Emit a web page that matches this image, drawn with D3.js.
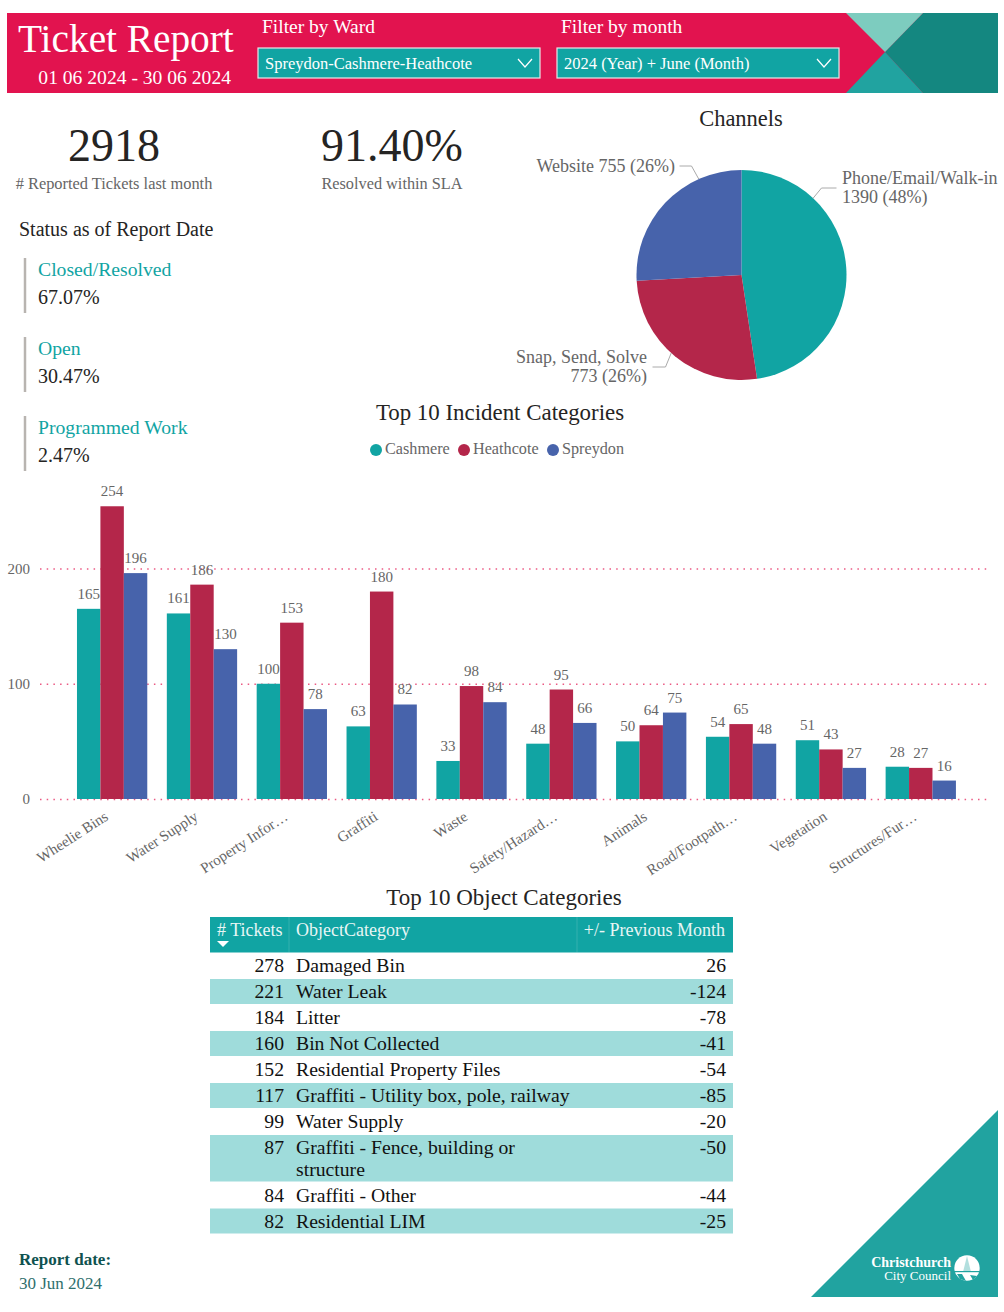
<!DOCTYPE html>
<html>
<head>
<meta charset="utf-8">
<title>Ticket Report</title>
<script src="https://cdn.jsdelivr.net/npm/d3@7"></script>
<style>
  html, body { margin: 0; padding: 0; background: #fff; }
  svg { display: block; }
  text { font-family: "Liberation Serif", serif; }
</style>
</head>
<body>
<div id="chart"></div>
<script>
// incident chart
const categories = ["Wheelie Bins", "Water Supply", "Property Infor…", "Graffiti", "Waste",
  "Safety/Hazard…", "Animals", "Road/Footpath…", "Vegetation", "Structures/Fur…"]
const wards = ["Cashmere", "Heathcote", "Spreydon"]
const cashmere = [165, 161, 100, 63, 33, 48, 50, 54, 51, 28]
const heathcote = [254, 186, 153, 180, 98, 95, 64, 65, 43, 27]
const spreydon = [196, 130, 78, 82, 84, 66, 75, 48, 27, 16]
const yTicks = [0, 100, 200]

// pie
const channels = ["Phone/Email/Walk-in", "Snap, Send, Solve", "Website"]
const channelCounts = [1390, 773, 755]
const channelPct = ["48%", "26%", "26%"]

// status list
const statusNames = ["Closed/Resolved", "Open", "Programmed Work"]
const statusValues = ["67.07%", "30.47%", "2.47%"]

// table
const tableHeaders = ["# Tickets", "ObjectCategory", "+/- Previous Month"]
const tickets = [278, 221, 184, 160, 152, 117, 99, 87, 84, 82]
const objectCategories = [["Damaged Bin"], ["Water Leak"], ["Litter"], ["Bin Not Collected"],
  ["Residential Property Files"], ["Graffiti - Utility box, pole, railway"], ["Water Supply"],
  ["Graffiti - Fence, building or", "structure"], ["Graffiti - Other"], ["Residential LIM"]]
const prevMonth = [26, -124, -78, -41, -54, -85, -20, -50, -44, -25]

const teal = "#11a4a3", crimson = "#b4264a", blue = "#4763ab", pink = "#e2134f"
const grey = "#666", dark = "#252423"

const svg = d3.select("#chart").append("svg").attr("width", 1004).attr("height", 1312)

function label(g, x, y, str, size, fill, anchor) {
  return g.append("text").attr("x", x).attr("y", y).attr("font-size", size)
    .attr("fill", fill).attr("text-anchor", anchor || "start").text(str)
}

// ---- header banner
const head = svg.append("g")
const poly = pts => "M" + pts.join("L") + "Z"
head.append("rect").attr("x", 7).attr("y", 13).attr("width", 991).attr("height", 80).attr("fill", pink)
head.append("path").attr("d", poly([[923, 13], [998, 13], [998, 93], [923, 93], [885, 52]])).attr("fill", "#148780")
head.append("path").attr("d", poly([[846, 13], [923, 13], [885, 52]])).attr("fill", "#7dccbf")
head.append("path").attr("d", poly([[846, 93], [923, 93], [885, 52]])).attr("fill", "#21a3a0")
label(head, 18, 52, "Ticket Report", 39.3, "#fff")
label(head, 231, 84, "01 06 2024 - 30 06 2024", 19.6, "#fff", "end")

const filters = [
  { x: 258, title: "Filter by Ward", value: "Spreydon-Cashmere-Heathcote" },
  { x: 557, title: "Filter by month", value: "2024 (Year) + June (Month)" }
]
filters.forEach(f => {
  label(head, f.x + 4, 33, f.title, 19.5, "#fff")
  head.append("rect").attr("x", f.x).attr("y", 48).attr("width", 282).attr("height", 30)
    .attr("fill", teal).attr("stroke", "#e8e8e8").attr("stroke-width", 1.2)
  label(head, f.x + 7, 69, f.value, 16.5, "#fff")
  head.append("path").attr("d", `M${f.x + 260},59L${f.x + 267},67L${f.x + 274},59`)
    .attr("fill", "none").attr("stroke", "#fff").attr("stroke-width", 1.2)
})

// ---- KPIs
label(svg, 114, 161, "2918", 46, dark, "middle")
label(svg, 114, 189, "# Reported Tickets last month", 16.4, grey, "middle")
label(svg, 392, 161, "91.40%", 46, dark, "middle")
label(svg, 392, 189, "Resolved within SLA", 16.3, grey, "middle")

// ---- status list
label(svg, 19, 236, "Status as of Report Date", 20, dark)
statusNames.forEach((name, i) => {
  const top = 258 + i * 79
  svg.append("line").attr("x1", 25).attr("x2", 25).attr("y1", top).attr("y2", top + 55)
    .attr("stroke", "#b8b4b0").attr("stroke-width", 2.5)
  label(svg, 38, top + 18, name, 19.7, teal)
  label(svg, 38, top + 46, statusValues[i], 20, dark)
})

// ---- channels pie
const pieX = 741.5, pieY = 275, pieR = 105
label(svg, 741, 126, "Channels", 22.5, dark, "middle")
const pieG = svg.append("g").attr("transform", `translate(${pieX},${pieY})`)
const pieData = d3.pie().sort(null)(channelCounts)
const pieColor = d3.scaleOrdinal().domain(channels).range([teal, crimson, blue])
pieG.selectAll("path").data(pieData).join("path")
  .attr("d", d3.arc().innerRadius(0).outerRadius(pieR))
  .attr("fill", (d, i) => pieColor(channels[i]))

// leader lines, angle (degrees clockwise from 12) where each one leaves the pie
const leaders = [
  { a: 43, elbow: [80, -87], end: [95, -87] },
  { a: 222, elbow: [-76, 92], end: [-89, 92] },
  { a: 336, elbow: [-50, -109], end: [-62, -109] }
]
leaders.forEach(l => {
  const start = d3.pointRadial(l.a * Math.PI / 180, pieR)
  pieG.append("path").attr("d", d3.line()([start, l.elbow, l.end]))
    .attr("fill", "none").attr("stroke", "#aaa")
})
label(svg, 842, 184, channels[0], 18, grey)
label(svg, 842, 203, `${channelCounts[0]} (${channelPct[0]})`, 18, grey)
label(svg, 647, 363, channels[1], 18, grey, "end")
label(svg, 647, 382, `${channelCounts[1]} (${channelPct[1]})`, 18, grey, "end")
label(svg, 675, 172, `${channels[2]} ${channelCounts[2]} (${channelPct[2]})`, 18, grey, "end")

// ---- incident bars
label(svg, 500, 420, "Top 10 Incident Categories", 22.9, dark, "middle")

const wardColor = d3.scaleOrdinal().domain(wards).range([teal, crimson, blue])
const legendX = [376, 464, 553]
wards.forEach((w, i) => {
  svg.append("circle").attr("cx", legendX[i]).attr("cy", 450).attr("r", 6).attr("fill", wardColor(w))
  label(svg, legendX[i] + 9, 454, w, 16.2, grey)
})

const x0 = d3.scaleBand().domain(categories).range([67.2, 965.7]).paddingInner(0.2176).paddingOuter(0.1088)
const x1 = d3.scaleBand().domain(wards).range([0, x0.bandwidth()])
const y = d3.scaleLinear().domain([0, 260]).range([799, 499.35])

const yAxis = d3.axisLeft(y).tickValues(yTicks).tickSize(-950).tickPadding(10).tickFormat(d3.format("d"))
const yG = svg.append("g").attr("transform", "translate(40,0)").call(yAxis)
yG.select(".domain").remove()
yG.selectAll(".tick line").attr("stroke", pink).attr("stroke-opacity", 0.7)
  .attr("stroke-width", 1.5).attr("stroke-dasharray", "1.5,5.2")
yG.selectAll(".tick text").attr("font-size", 15).attr("fill", grey)
  .style("font-family", "'Liberation Serif', serif")

const series = wards.map((w, i) => ({ ward: w, values: [cashmere, heathcote, spreydon][i] }))
const rows = categories.map((c, i) => ({ cat: c, vals: series.map(s => ({ ward: s.ward, v: s.values[i] })) }))

const groups = svg.append("g").selectAll("g").data(rows).join("g")
  .attr("transform", d => `translate(${x0(d.cat)},0)`)
groups.selectAll("rect").data(d => d.vals).join("rect")
  .attr("x", d => x1(d.ward))
  .attr("y", d => y(d.v))
  .attr("width", x1.bandwidth())
  .attr("height", d => y(0) - y(d.v))
  .attr("fill", d => wardColor(d.ward))
groups.selectAll("text").data(d => d.vals).join("text")
  .attr("x", d => x1(d.ward) + x1.bandwidth() / 2)
  .attr("y", d => y(d.v) - 10)
  .attr("text-anchor", "middle").attr("font-size", 15).attr("fill", grey)
  .text(d => d.v)

const xAxis = d3.axisBottom(x0).tickSize(0).tickPadding(0)
const xG = svg.append("g").attr("transform", "translate(0,799)").call(xAxis)
xG.select(".domain").remove()
xG.selectAll(".tick text")
  .attr("font-size", 15).attr("fill", grey)
  .style("font-family", "'Liberation Serif', serif")
  .attr("text-anchor", "end").attr("dy", 0).attr("y", 0)
  .attr("transform", "translate(-3,20) rotate(-33)")

// ---- object table
label(svg, 504, 905, "Top 10 Object Categories", 23, dark, "middle")
const colEdges = [210, 289, 577, 733]
const tableTop = 917, headH = 35.5, lineH = 26, extraLine = 21.5
const table = svg.append("g")
table.append("rect").attr("x", colEdges[0]).attr("y", tableTop).attr("width", colEdges[3] - colEdges[0])
  .attr("height", headH).attr("fill", teal)
colEdges.slice(1, 3).forEach(cx => {
  table.append("line").attr("x1", cx).attr("x2", cx).attr("y1", tableTop).attr("y2", tableTop + headH)
    .attr("stroke", "#fff").attr("stroke-opacity", 0.15)
})
label(table, 217, 935.5, tableHeaders[0], 18, "#e8f6f5")
label(table, 296, 935.5, tableHeaders[1], 18, "#e8f6f5")
label(table, 725, 935.5, tableHeaders[2], 18, "#e8f6f5", "end")
table.append("path").attr("d", poly([[217, 941], [229, 941], [223, 947]])).attr("fill", "#fff")

let rowTop = tableTop + headH + 0.5
tickets.forEach((t, i) => {
  const cat = objectCategories[i]
  const h = lineH + (cat.length - 1) * extraLine
  if (i % 2 == 1) {
    table.append("rect").attr("x", colEdges[0]).attr("y", rowTop).attr("width", colEdges[3] - colEdges[0])
      .attr("height", h - 1).attr("fill", "#9fdcdb")
  }
  const base = rowTop + 19
  label(table, 284, base, t, 19.7, "#111", "end")
  cat.forEach((line, j) => label(table, 296, base + j * extraLine, line, 19.7, "#111"))
  label(table, 726, base, prevMonth[i], 19.7, "#111", "end")
  rowTop += h
})

// ---- footer
label(svg, 19, 1265, "Report date:", 17, "#0f5250").attr("font-weight", "bold")
label(svg, 19, 1289, "30 Jun 2024", 17, "#2f6f6d")

const foot = svg.append("g")
foot.append("path").attr("d", poly([[998, 1110], [998, 1297], [811, 1297]])).attr("fill", "#21a3a0")
label(foot, 951, 1267, "Christchurch", 14, "#fff", "end").attr("font-weight", "bold")
label(foot, 951, 1280, "City Council", 13, "#fff", "end")
foot.append("circle").attr("cx", 967).attr("cy", 1268).attr("r", 12.7).attr("fill", "#fff")
foot.append("path").attr("d", poly([[967, 1256], [963, 1272], [971, 1272]])).attr("fill", "#21a3a0").attr("fill-opacity", 0.35)
foot.append("rect").attr("x", 954).attr("y", 1271).attr("width", 26).attr("height", 1.2).attr("fill", "#21a3a0")
foot.append("path").attr("d", poly([[957, 1274], [962, 1274], [966, 1281], [960, 1279]])).attr("fill", "#21a3a0")
foot.append("path").attr("d", poly([[970, 1275], [977, 1276], [973, 1280]])).attr("fill", "#21a3a0")
</script>
</body>
</html>
